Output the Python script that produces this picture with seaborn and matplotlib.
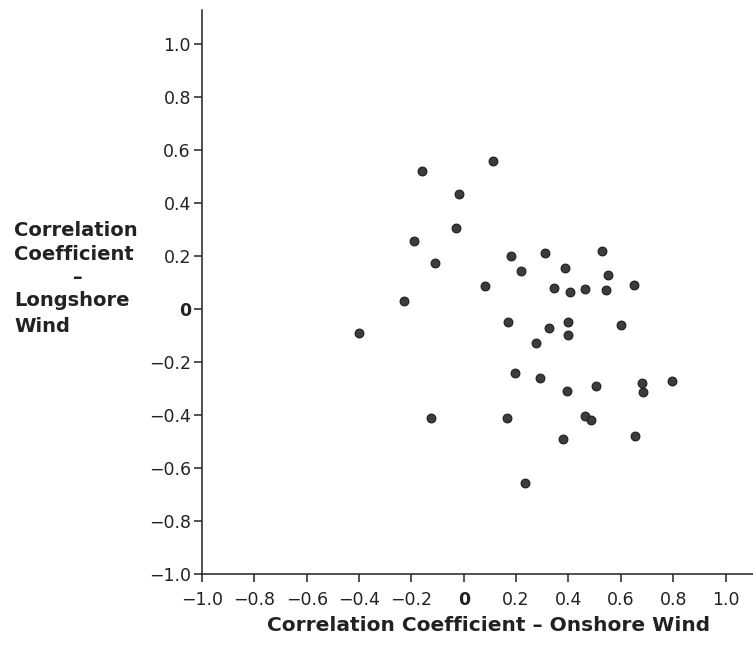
import matplotlib
matplotlib.use("Agg")
import matplotlib.pyplot as plt
import seaborn as sns
import pandas as pd
from matplotlib.ticker import FixedLocator, FixedFormatter

onshore = [-0.40, -0.16, 0.11, -0.02, -0.03, -0.19, -0.11, 0.18, 0.22, 0.08,
           -0.23, 0.31, 0.53, 0.385, 0.55, 0.345, 0.405, 0.465, 0.545, 0.65,
           0.17, 0.325, 0.40, 0.40, 0.60, 0.275, 0.195, 0.29, 0.395, 0.505,
           0.68, 0.685, 0.795, 0.165, 0.465, 0.485, 0.38, 0.655, -0.125, 0.235]
longshore = [-0.09, 0.52, 0.56, 0.435, 0.305, 0.255, 0.175, 0.20, 0.145, 0.085,
             0.03, 0.21, 0.22, 0.155, 0.13, 0.08, 0.065, 0.075, 0.07, 0.09,
             -0.05, -0.07, -0.05, -0.10, -0.06, -0.13, -0.24, -0.26, -0.31, -0.29,
             -0.28, -0.315, -0.27, -0.41, -0.405, -0.42, -0.49, -0.48, -0.41, -0.655]

tick_vals = [-1.0, -0.8, -0.6, -0.4, -0.2, 0.0, 0.2, 0.4, 0.6, 0.8, 1.0]
tick_labels = ["\u22121.0", "\u22120.8", "\u22120.6", "\u22120.4", "\u22120.2", "0",
               "0.2", "0.4", "0.6", "0.8", "1.0"]

df = pd.DataFrame({"onshore": onshore, "longshore": longshore})

sns.set_style("ticks")
plt.rcParams["font.family"] = ["DejaVu Sans"]

fig = plt.figure(figsize=(7.53, 6.49), dpi=100)
ax = fig.add_axes([202 / 753, 75 / 649, 1 - 202 / 753, 564 / 649])

sns.scatterplot(data=df, x="onshore", y="longshore", ax=ax, s=40,
                color="#3c3c3c", edgecolor="#1e1e1e", linewidth=0.8, zorder=3)

ax.set_xlim(-1.0, 1.105)
ax.set_ylim(-1.0, 1.128)
sns.despine(ax=ax)
for s in ["left", "bottom"]:
    ax.spines[s].set_linewidth(1.1)
    ax.spines[s].set_color("#222222")

ax.xaxis.set_major_locator(FixedLocator(tick_vals))
ax.xaxis.set_major_formatter(FixedFormatter(tick_labels))
ax.yaxis.set_major_locator(FixedLocator(tick_vals))
ax.yaxis.set_major_formatter(FixedFormatter(tick_labels))
ax.tick_params(axis="both", direction="out", length=6, width=1.1, color="#222222",
               labelsize=12.5, labelcolor="#222222")
ax.tick_params(axis="x", pad=6)
ax.tick_params(axis="y", pad=2)

for lab in ax.get_xticklabels() + ax.get_yticklabels():
    if lab.get_text() == "0":
        lab.set_fontweight("bold")

ax.set_xlabel("Correlation Coefficient \u2013 Onshore Wind", fontsize=14.5,
              fontweight="bold", color="#222222")
ax.xaxis.set_label_coords(0.52, -0.075)
ax.set_ylabel("")

lines = [("Correlation", 231), ("Coefficient", 254), ("\u2013", 277),
         ("Longshore", 301), ("Wind", 327)]
for txt, ypix in lines:
    if txt == "\u2013":
        fig.text(78 / 753, 1 - ypix / 649, txt, ha="center", va="center",
                 fontsize=14, fontweight="bold", color="#222222")
    else:
        fig.text(14 / 753, 1 - ypix / 649, txt, ha="left", va="center",
                 fontsize=14, fontweight="bold", color="#222222")

fig.savefig("out.png", dpi=100)
